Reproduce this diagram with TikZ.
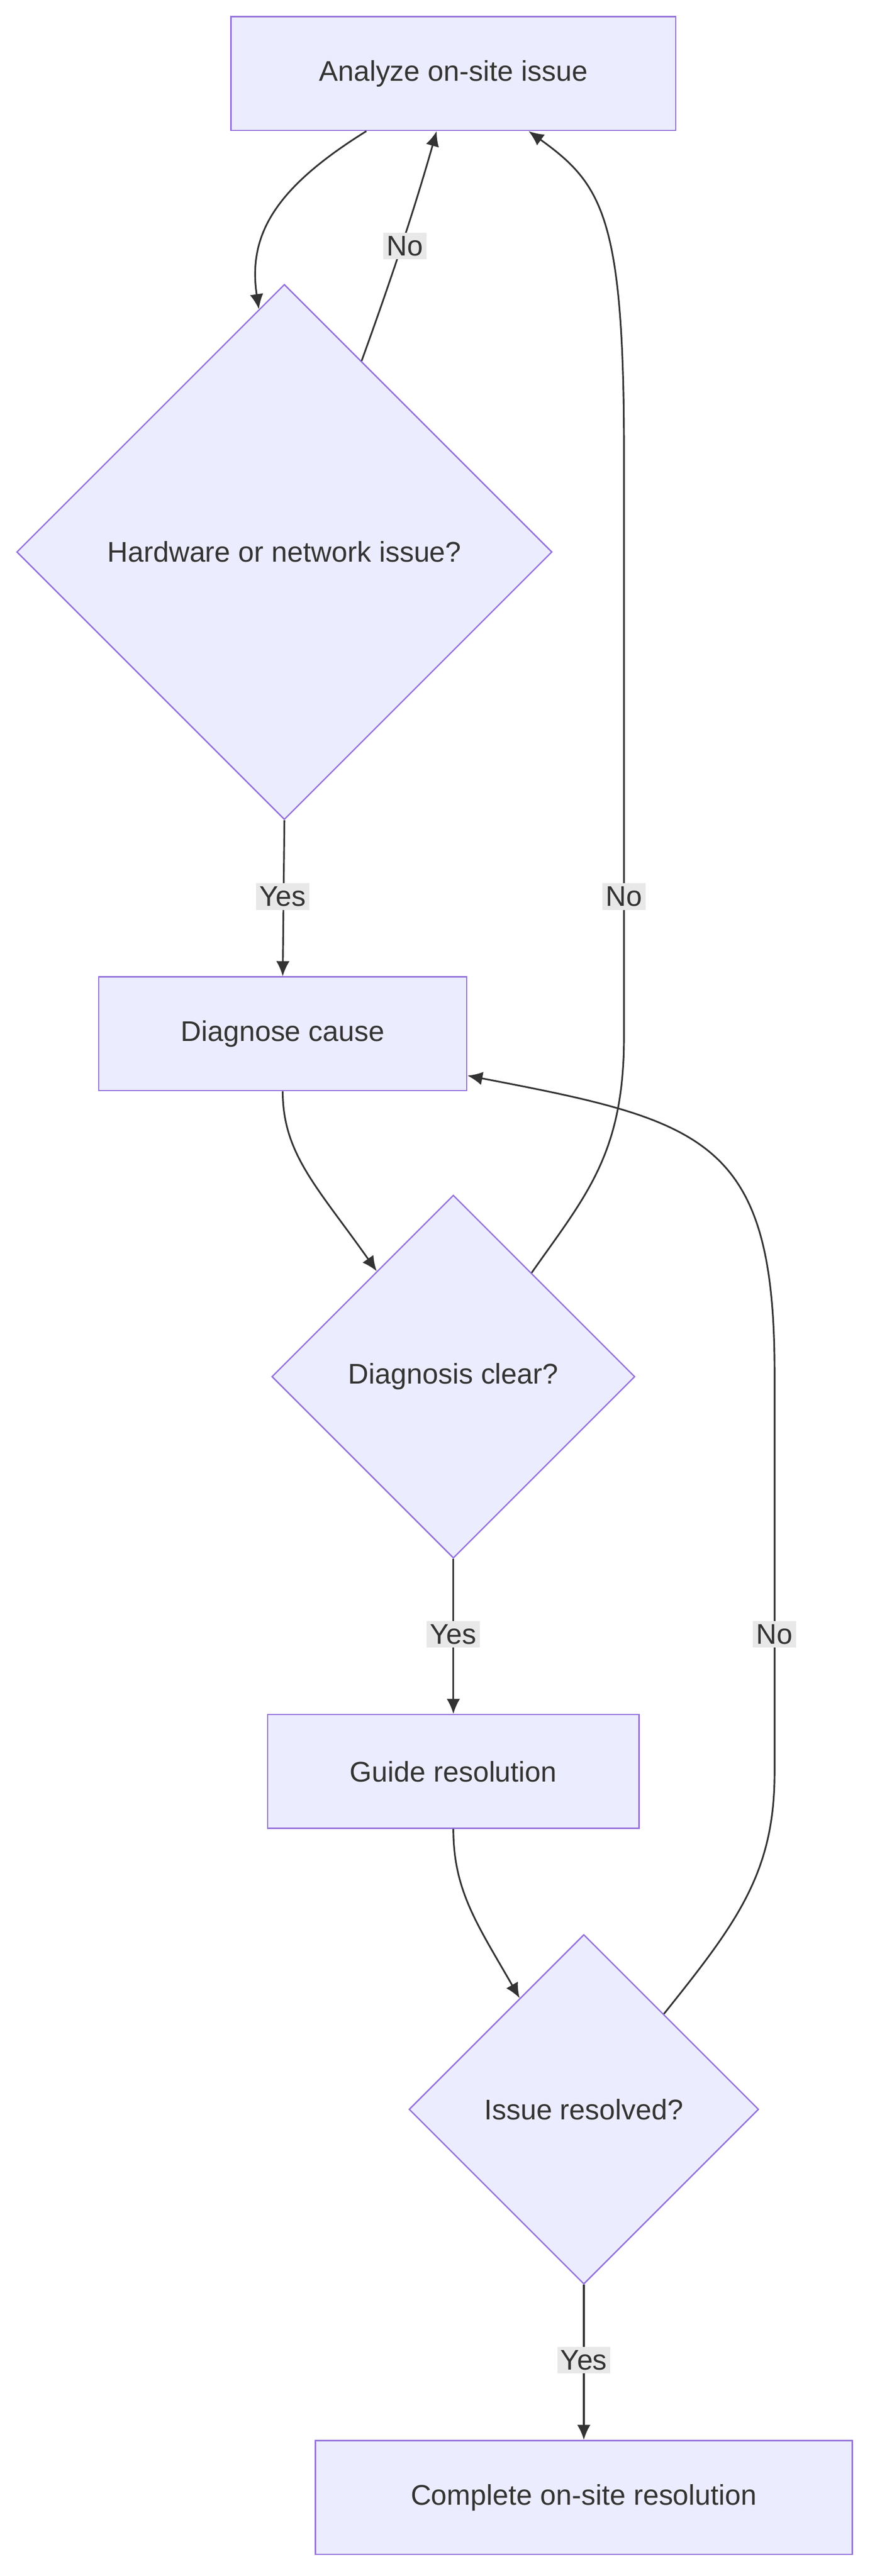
\documentclass[tikz,border=0pt]{standalone}
\usepackage{fontspec}
\setmainfont{Liberation Sans}
\usetikzlibrary{shapes.geometric,arrows.meta,calc}
\definecolor{nfill}{HTML}{ECECFF}
\definecolor{nline}{HTML}{9370DB}
\definecolor{ink}{HTML}{333333}
\definecolor{lblbg}{HTML}{E8E8E8}
\begin{document}
\begin{tikzpicture}[x=1pt,y=-1pt,
  every node/.style={font=\fontsize{17}{20}\selectfont,text=ink},
  box/.style={draw=nline,fill=nfill,line width=0.8pt,rectangle,inner sep=0},
  dia/.style={draw=nline,fill=nfill,line width=0.8pt,diamond,aspect=1,inner sep=0},
  edge/.style={draw=ink,line width=1pt,-{Latex[length=9pt,width=8pt]}},
  lbl/.style={fill=lblbg,inner sep=2pt}]
\useasboundingbox (0,0) rectangle (520,1540);
\node[box,minimum width=266,minimum height=68] (a) at (271,44) {Analyze on-site issue};
\node[dia,minimum width=320,minimum height=320] (d1) at (170,330) {Hardware or network issue?};
\node[box,minimum width=220,minimum height=68] (b) at (169,618) {Diagnose cause};
\node[dia,minimum width=217,minimum height=217] (d2) at (271,823) {Diagnosis clear?};
\node[box,minimum width=222,minimum height=68] (c) at (271,1059) {Guide resolution};
\node[dia,minimum width=209,minimum height=209] (d3) at (349,1261) {Issue resolved?};
\node[box,minimum width=321,minimum height=68] (e) at (349,1493) {Complete on-site resolution};

\draw[edge] ($(a.south)+(-52,0)$) .. controls (165,112) and (148,140) .. (d1.96);
\draw[edge] (d1.68) .. controls (240,150) and (252,110) .. ($(a.south)+(-10,0)$);
\draw[edge] (d1.south) -- (b.north);
\draw[edge] (b.south) .. controls (169,690) and (190,710) .. (d2.126);
\draw[edge] (d2.53) .. controls (350,715) and (373,690) .. (373,620) -- (373,270) .. controls (373,130) and (360,110) .. ($(a.south)+(45,0)$);
\draw[edge] (d2.south) -- (c.north);
\draw[edge] (c.south) .. controls (271,1130) and (285,1150) .. (d3.120);
\draw[edge] (d3.50) .. controls (440,1150) and (463,1120) .. (463,1060) -- (463,820) .. controls (463,680) and (420,670) .. ($(b.east)+(0,25)$);
\draw[edge] (d3.south) -- (e.north);

\node[lbl] (l1) at (242,147) {No};
\node[lbl] (l2) at (169,536) {Yes};
\node[lbl] (l3) at (373,536) {No};
\node[lbl] (l4) at (271,977) {Yes};
\node[lbl] (l5) at (463,977) {No};
\node[lbl] (l6) at (349,1411) {Yes};
\end{tikzpicture}
\end{document}
